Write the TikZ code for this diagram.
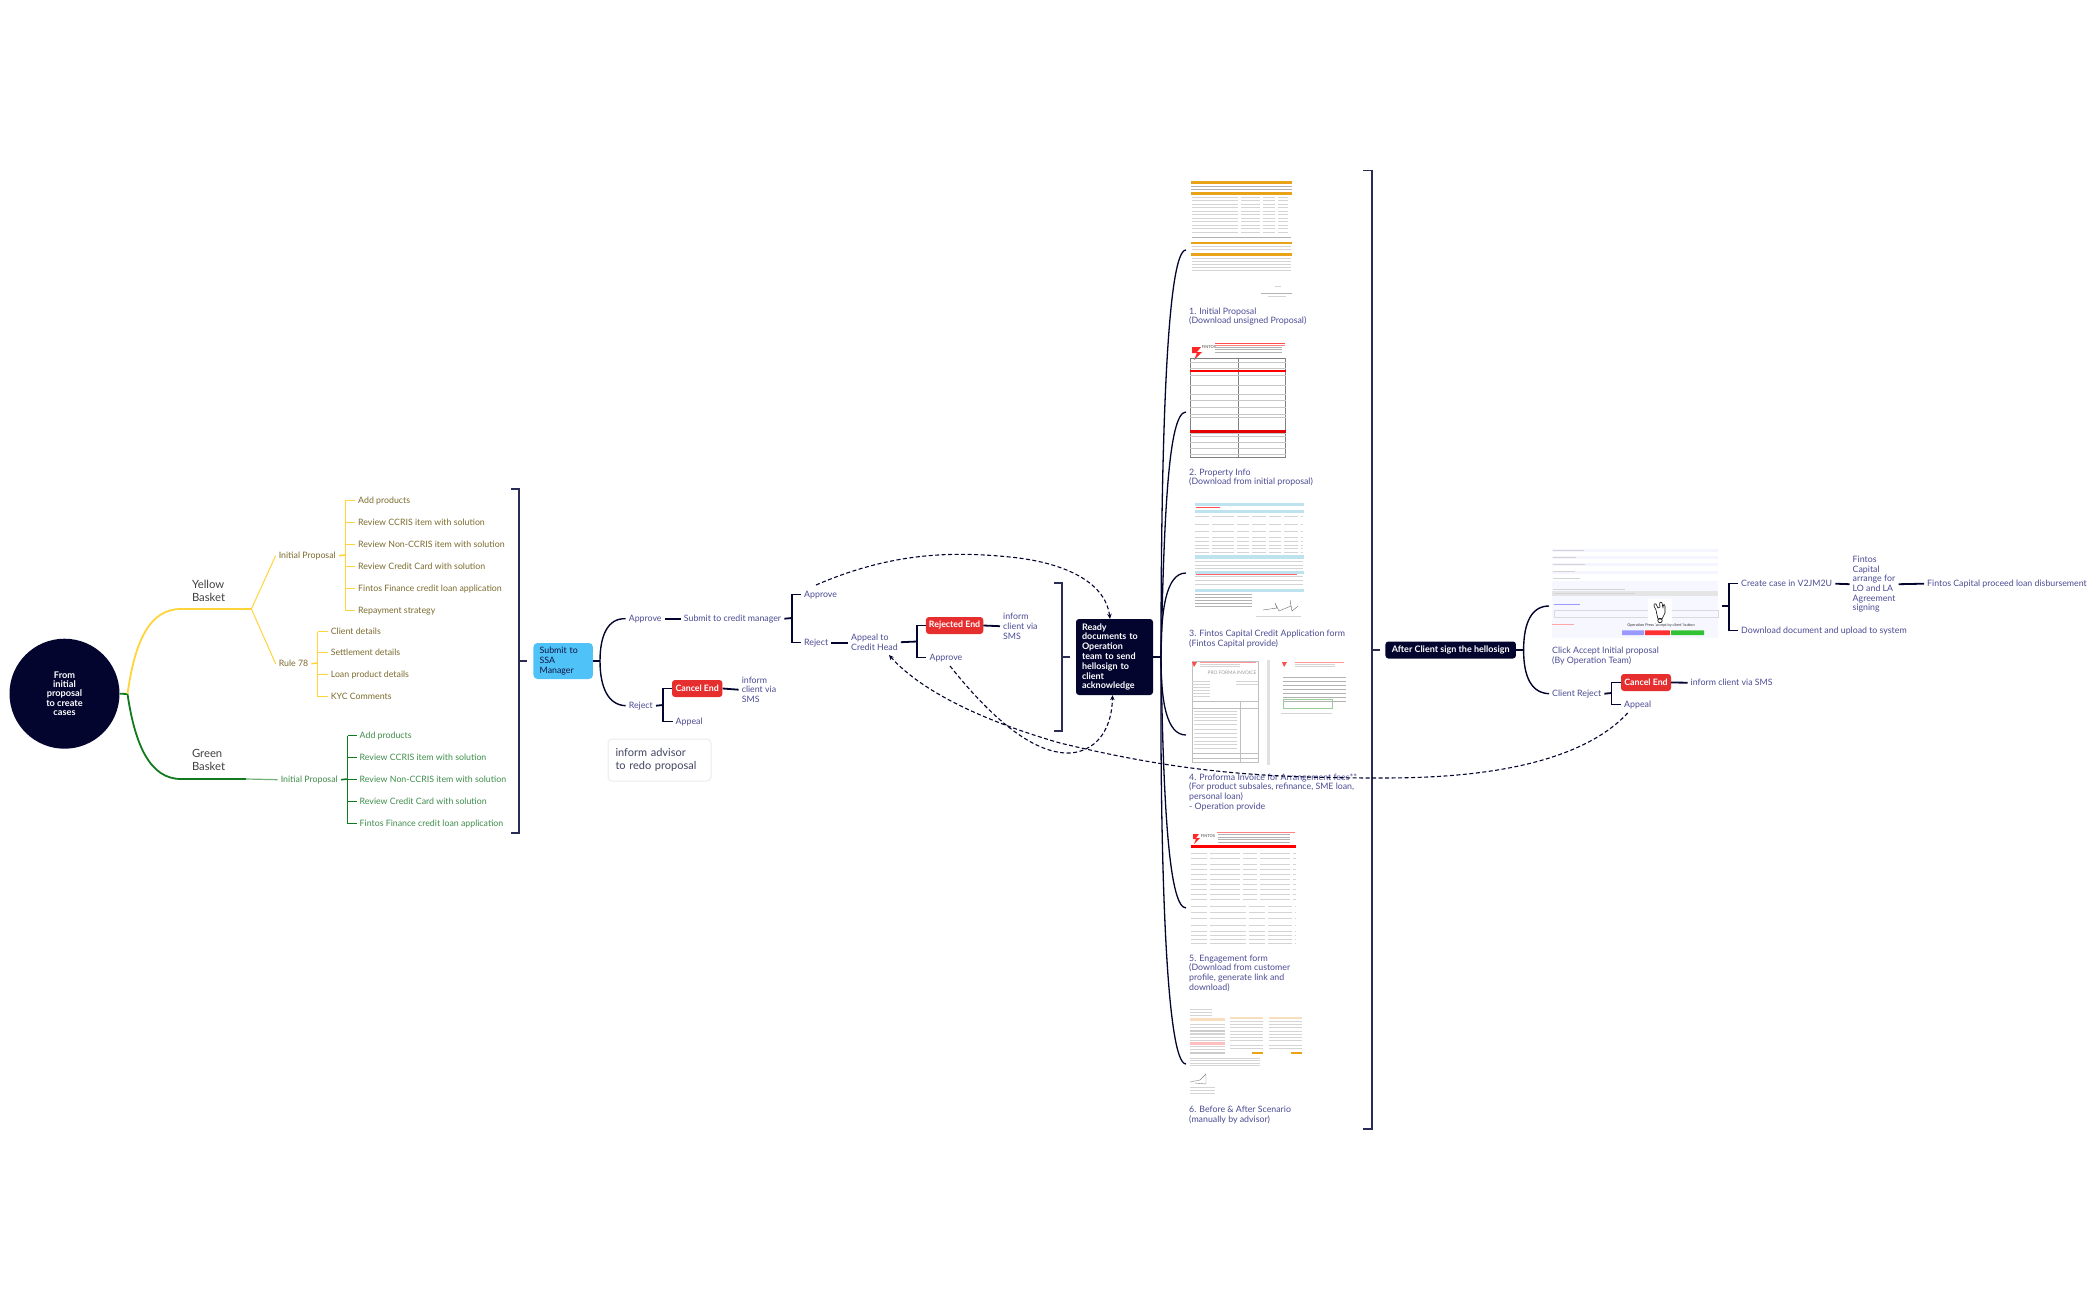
\documentclass[tikz,border=0pt]{standalone}
\usepackage{fontspec}
\setmainfont{Lato}
\usetikzlibrary{arrows.meta}
\definecolor{navy}{HTML}{03052E}
\definecolor{brk}{HTML}{2A2C55}
\definecolor{ink}{HTML}{4B4B94}
\definecolor{ylw}{HTML}{FFD43B}
\definecolor{olive}{HTML}{7B6A2E}
\definecolor{grn}{HTML}{117A1E}
\definecolor{grntxt}{HTML}{3E8C4A}
\definecolor{sky}{HTML}{4FC3F7}
\definecolor{redbox}{HTML}{E62E2E}
\definecolor{amber}{HTML}{E8A317}
\definecolor{paleblue}{HTML}{BFE3EE}
\definecolor{peach}{HTML}{F8DDBF}
\tikzset{
 lbl/.style={anchor=west,inner xsep=3pt,inner ysep=0pt,xshift=-3pt,yshift=-.7pt,align=left,font=\fontsize{8.8}{9.7}\selectfont,text=ink},
 ylab/.style={lbl,text=olive},
 glab/.style={lbl,text=grntxt},
 basket/.style={lbl,text=black!75,font=\fontsize{11.3}{13}\selectfont},
 rbox/.style={rectangle,rounded corners=3pt,fill=redbox,text=white,inner sep=0pt,font=\bfseries\fontsize{8.8}{10}\selectfont},
 nbox/.style={rectangle,rounded corners=3pt,fill=navy,text=white,inner sep=0pt,font=\bfseries\fontsize{9}{9.8}\selectfont},
 stub/.style={navy,line width=1.8pt},
 tree/.style={navy,line width=1.4pt},
 fan/.style={navy,line width=1.3pt},
 bracket/.style={brk,line width=1.3pt},
 ytree/.style={ylw,line width=1pt},
 gtree/.style={grn,line width=.9pt},
 link/.style={navy,line width=1.1pt,dash pattern=on 4pt off 2.5pt,-{Stealth[length=5pt,width=4.5pt]}},
 row/.style={black!17,line width=.7pt},
 rowd/.style={black!30,line width=.7pt},
 rule/.style={black!25,line width=.4pt},
}
\newcommand\rowlines[6][row]{\foreach \yy in {#4,#5,...,#6}{\draw[#1] (#2,\yy) -- (#3,\yy);}}
\begin{document}
\begin{tikzpicture}[x=1pt,y=-1pt]
\useasboundingbox (0,0) rectangle (2099,1300);
% ---------- root ----------
\node[circle,fill=navy,minimum size=110pt,inner sep=0pt,text=white,align=center,font=\bfseries\fontsize{9.2}{9.3}\selectfont] (root) at (64.5,693.7) {From\\initial\\proposal\\to create\\cases};
\coordinate (rootj) at (127.5,694);
\node[basket] (yb) at (191.8,590) {Yellow\\Basket};
\node[basket] (gb) at (191.8,759) {Green\\Basket};
\coordinate (yj) at (251.4,609);
\coordinate (gj) at (246,779);
\draw[grn,line width=1.8pt] (root.east) -- (rootj);
\draw[ylw,line width=1.8pt] (rootj) .. controls (135,640) and (150,609) .. (181,609) -- (yj);
\draw[grn,line width=1.8pt] (rootj) .. controls (135,745) and (150,779) .. (181,779) -- (gj);
% yellow
\node[ylab] (yip) at (278.6,555) {Initial Proposal};
\node[ylab] (r78) at (278.6,663) {Rule 78};
\draw[ytree] (yj) -- (yip.west);
\draw[ytree] (yj) -- (r78.west);
\coordinate (yv) at (345.4,555);
\draw[ylw,line width=1.6pt] (yip.east) -- (yv);
\foreach \n/\yy/\t in {a/500/Add products,b/522/Review CCRIS item with solution,c/544/Review Non-CCRIS item with solution,d/566/Review Credit Card with solution,e/588/Fintos Finance credit loan application,f/610/Repayment strategy}{
 \node[ylab] (y\n) at (358,\yy) {\t};
 \draw[ytree] (y\n.west) -- (yv|-y\n.west);
}
\draw[ytree] (yv|-ya.west) -- (yv|-yf.west);
\coordinate (rv) at (317.5,663);
\draw[ylw,line width=1.4pt] (r78.east) -- (rv);
\foreach \n/\yy/\t in {a/631/Client details,b/652/Settlement details,c/674/Loan product details,d/696/KYC Comments}{
 \node[ylab] (q\n) at (330.6,\yy) {\t};
 \draw[ytree] (q\n.west) -- (rv|-q\n.west);
}
\draw[ytree] (rv|-qa.west) -- (rv|-qd.west);
% green
\node[glab] (gip) at (280.6,779) {Initial Proposal};
\draw[grn!60,line width=1.2pt] (gj) -- (gip.west);
\coordinate (gv) at (347.5,779);
\draw[grn,line width=1.6pt] (gip.east) -- (gv);
\foreach \n/\yy/\t in {a/735/Add products,b/757/Review CCRIS item with solution,c/779/Review Non-CCRIS item with solution,d/801/Review Credit Card with solution,e/823/Fintos Finance credit loan application}{
 \node[glab] (g\n) at (359.5,\yy) {\t};
 \draw[gtree] (g\n.west) -- (gv|-g\n.west);
}
\draw[gtree] (gv|-ga.west) -- (gv|-ge.west);
% bracket 1
\coordinate (b1t) at (511.4,489); \coordinate (b1b) at (511.4,833); \coordinate (b1x) at (519,661);
\coordinate (b1o) at (527,661);
\draw[bracket] (b1t) -| (b1x) |- (b1b);
\draw[bracket] (b1x) -- (b1o);
% submit
\node[rectangle,rounded corners=4pt,fill=sky,text=navy!80!ink,inner sep=0pt,minimum width=59.5pt,minimum height=36pt,text width=47pt,align=left,font=\fontsize{8.8}{9.6}\selectfont] (submit) at (563.2,661) {Submit to\\SSA\\Manager};
\coordinate (sj) at (600,661);
\draw[stub] (submit.east) -- (sj);
\node[lbl] (ap1) at (628.6,618) {Approve};
\node[lbl] (rj1) at (628.6,705) {Reject};
\draw[tree] (sj) .. controls (600,635) and (608,618) .. (ap1.west);
\draw[tree] (sj) .. controls (600,687) and (608,705) .. (rj1.west);
\node[lbl] (scm) at (683.7,618) {Submit to credit manager};
\draw[stub] (ap1.east) -- (scm.west);
\coordinate (sv) at (792,618);
\draw[stub] (scm.east) -- (sv);
\node[lbl] (ap2) at (804,594) {Approve};
\node[lbl] (rj2) at (804,642) {Reject};
\draw[tree] (ap2.west) -- (sv|-ap2.west) -- (sv|-rj2.west) -- (rj2.west);
\node[lbl] (ach) at (851,641.5) {Appeal to\\Credit Head};
\draw[stub] (rj2.east) -- (ach.west|-rj2.east);
\coordinate (av) at (917,641.5);
\draw[stub] (ach.east) -- (av);
\node[rbox,minimum width=57.3pt,minimum height=17pt] (rend) at (954.6,625.5) {Rejected End};
\node[lbl] (ap3) at (929.4,657) {Approve};
\node[lbl] (inf2) at (1003,625.5) {inform\\client via\\SMS};
\draw[tree] (rend.west) -- (av|-rend.west) -- (av|-ap3.west) -- (ap3.west);
\draw[stub] (rend.east) -- (inf2.west);
% reject branch
\coordinate (rv1) at (663,705);
\draw[stub] (rj1.east) -- (rv1);
\node[rbox,minimum width=50.4pt,minimum height=17pt] (cend) at (697.2,688.5) {Cancel End};
\node[lbl] (app1) at (675.5,721) {Appeal};
\node[lbl] (inf1) at (741.6,689) {inform\\client via\\SMS};
\draw[tree] (cend.west) -- (rv1|-cend.west) -- (rv1|-app1.west) -- (app1.west);
\draw[stub] (cend.east) -- (inf1.west);
\node[rectangle,rounded corners=4pt,draw=black!8,line width=1pt,fill=white,text=navy!75,minimum width=103pt,minimum height=42pt,inner sep=0pt,text width=88pt,align=left,font=\fontsize{11}{13}\selectfont] (note) at (659.5,760) {inform advisor\\to redo proposal};
% bracket 2
\coordinate (b2t) at (1054,583); \coordinate (b2b) at (1054,731); \coordinate (b2x) at (1062,657); \coordinate (b2o) at (1070,657);
\draw[bracket] (b2t) -| (b2x) |- (b2b);
\draw[bracket] (b2x) -- (b2o);
% ready
\node[nbox,minimum width=77pt,minimum height=76pt,text width=65pt,align=left] (ready) at (1114.5,657) {Ready\\documents to\\Operation\\team to send\\hellosign to\\client\\acknowledge};
\coordinate (hub) at (1161,657);
\draw[navy,line width=2.6pt] (ready.east) -- (hub);
\coordinate (c1) at (1186,250); \coordinate (c2) at (1186,412); \coordinate (c3) at (1186,573);
\coordinate (c4) at (1186,735); \coordinate (c5) at (1186,908); \coordinate (c6) at (1186,1064);
\draw[fan] (hub) .. controls (1161,460) and (1166,250) .. (c1);
\draw[fan] (hub) .. controls (1164,520) and (1168,412) .. (c2);
\draw[fan] (hub) .. controls (1161,610) and (1166,573) .. (c3);
\draw[fan] (hub) .. controls (1161,700) and (1166,735) .. (c4);
\draw[fan] (hub) .. controls (1163,790) and (1168,908) .. (c5);
\draw[fan] (hub) .. controls (1160,860) and (1166,1064) .. (c6);
% ---------- image 1 ----------
\fill[amber] (1191,181.5) rectangle (1292,184);
\rowlines[rowd]{1191}{1292}{186}{189}{189}
\fill[amber] (1191,192) rectangle (1292,195);
\foreach \yy in {197,200.5,...,232}{
 \draw[row,dash pattern=on 46pt off 3pt on 19pt off 3pt on 12pt off 3pt on 10pt off 3pt] (1192,\yy) -- (1291,\yy);}
\draw[rowd] (1192,237) -- (1291,237);
\fill[amber] (1191,242) rectangle (1292,244.5);
\rowlines[row]{1192}{1291}{246.5}{249.5}{250}
\fill[amber] (1191,253) rectangle (1292,255.5);
\rowlines[row]{1192}{1291}{258}{261}{272}
\draw[row] (1275,286) -- (1281,286);
\draw[rowd] (1261,293) -- (1292,293);
\draw[row] (1268,296) -- (1286,296);
\node[lbl] (l1) at (1189,316) {1. Initial Proposal\\(Download unsigned Proposal)};
% ---------- image 2 ----------
\fill[red!85] (1192,347) -- (1201,347) -- (1197,352) -- (1202,352) -- (1194,360) -- (1197,353) -- (1192,353) -- cycle;
\node[inner sep=0pt,text=black!55,font=\bfseries\fontsize{4}{4}\selectfont] (tx2) at (1209,347) {FINTOS};
\draw[red!70,line width=.8pt] (1215,343) -- (1285,343);
\draw[red!50,line width=.4pt] (1215,345) -- (1285,345);
\rowlines[rowd]{1215}{1282}{347}{349.5}{354}
\draw[black!50,line width=.5pt] (1190,358.5) rectangle (1285.7,457.7);
\draw[black!50,line width=.5pt] (1238,358.5) -- (1238,457.7);
\foreach \yy in {362,368,375,385,394,400,407,414,417,433,436,442,448,454}{\draw[black!22,line width=.5pt] (1190,\yy) -- (1285.7,\yy);}
\fill[red] (1190,369.5) rectangle (1285.7,372);
\fill[red!90!black] (1190,429.5) rectangle (1285.7,433);
\node[lbl] (l2) at (1189,477) {2. Property Info\\(Download from initial proposal)};
% ---------- image 3 ----------
\foreach \ya/\yb in {502.5/505.5,510/513,555/558.5,570.5/573.5,588.5/591.5}{\fill[paleblue] (1194.5,\ya) rectangle (1304,\yb);}
\draw[red!70,line width=.5pt] (1196,507.5) -- (1220,507.5);
\foreach \yy in {516,524,531,537,541,545,548,552}{\draw[row,dash pattern=on 14pt off 3pt on 22pt off 3pt on 12pt off 3pt on 14pt off 3pt on 12pt off 3pt] (1195,\yy) -- (1303,\yy);}
\foreach \yy in {561,565,568,576,580,584}{\draw[row] (1195,\yy) -- (1303,\yy);}
\draw[red!60,line width=.6pt] (1196,574.5) -- (1297,574.5);
\foreach \yy in {594,597,600,603,606}{\draw[rowd] (1195,\yy) -- (1252,\yy);}
\draw[rule,black!60] (1263,610) -- (1277,608) -- (1275,603) -- (1279,611) -- (1291,606) -- (1290,600) -- (1292,611) -- (1298,606);
\draw[row] (1256,616.5) -- (1301,616.5);
\node[lbl] (l3) at (1189,638) {3. Fintos Capital Credit Application form\\(Fintos Capital provide)};
% ---------- image 4 ----------
\fill[black!12] (1267,660) rectangle (1270,765);
\draw[rule] (1192,661) rectangle (1258,762);
\fill[red!70] (1192,662) -- (1197,662) -- (1194,667) -- cycle;
\draw[red!40,line width=.4pt] (1200,662) -- (1256,662);
\rowlines[row]{1200}{1240}{664}{666}{666}
\node[inner sep=0pt,text=black!40,font=\fontsize{4.8}{5}\selectfont] (pf) at (1232,673) {PRO FORMA INVOICE};
\rowlines[row]{1192}{1210}{681}{684}{696}
\rowlines[row]{1236}{1258}{681}{684}{684}
\draw[rule] (1192,701) rectangle (1258,762);
\draw[rule] (1240,701) -- (1240,762);
\draw[rule] (1192,708) -- (1258,708);
\foreach \yy in {711,714,717,720,724,729,733,737,741,744,748}{\draw[row] (1194,\yy) -- (1237,\yy);}
\draw[rule] (1192,753) -- (1258,753);
\draw[rule] (1192,758) -- (1258,758);
\fill[red!70] (1282,662) -- (1287,662) -- (1284,667) -- cycle;
\draw[red!40,line width=.4pt] (1295,662) -- (1344,662);
\rowlines[row]{1295}{1335}{664}{666}{666}
\foreach \yy in {677,681,685,689,693,697,701}{\draw[rowd] (1283,\yy) -- (1346,\yy);}
\draw[green!50!black!40,line width=.5pt] (1283,699) rectangle (1332,708);
\draw[row] (1281,713) -- (1332,713);
\node[lbl] (l4) at (1189,791.5) {4. Proforma Invoice for Arrangement fees**\\(For product subsales, refinance, SME loan,\\personal loan)\\- Operation provide};
% ---------- image 5 ----------
\fill[red!85] (1193,834) -- (1199,834) -- (1196,838) -- (1200,838) -- (1194,844) -- (1196,839) -- (1193,839) -- cycle;
\node[inner sep=0pt,text=black!55,font=\bfseries\fontsize{4}{4}\selectfont] (tx5) at (1208,836) {FINTOS};
\draw[red!50,line width=.8pt] (1217,832) -- (1295,832);
\rowlines[rowd]{1218}{1290}{834.5}{837}{842}
\fill[red] (1191,844.5) rectangle (1296,848);
\foreach \yy in {853,858,864,869,874,879,884,889,894,899}{\draw[row,dash pattern=on 16pt off 3pt on 30pt off 3pt on 14pt off 3pt on 30pt off 3pt] (1191,\yy) -- (1296,\yy);}
\foreach \yy in {906,912,918,925,931,935,939,943}{\draw[row,dash pattern=on 16pt off 3pt on 36pt off 3pt on 16pt off 3pt on 24pt off 3pt] (1191,\yy) -- (1296,\yy);}
\node[lbl] (l5) at (1189,972.5) {5. Engagement form\\(Download from customer\\profile, generate link and\\download)};
% ---------- image 6 ----------
\rowlines[row]{1190}{1212}{1009}{1012}{1015}
\fill[peach] (1190,1018) rectangle (1225,1021);
\rowlines[row]{1190}{1225}{1024}{1027}{1034}
\fill[black!20] (1190,1030) rectangle (1225,1032);
\rowlines[row]{1190}{1225}{1034}{1037}{1050}
\fill[red!25] (1190,1042) rectangle (1225,1045);
\fill[black!20] (1190,1052) rectangle (1225,1054);
\foreach \xa/\xb in {1230/1263,1269/1302}{
 \fill[peach] (\xa,1016.5) rectangle (\xb,1018.5);
 \rowlines[row]{\xa}{\xb}{1021}{1024}{1027}
 \rowlines[row]{\xa}{\xb}{1031}{1034}{1041}
 \rowlines[row]{\xa}{\xb}{1045}{1048}{1048}
 \fill[amber] (\xb-11,1052) rectangle (\xb,1054);
}
\rowlines[row]{1190}{1260}{1058}{1060.5}{1066}
\draw[rule,black!50] (1190,1082) -- (1200,1080) -- (1206,1074) -- (1206,1084) -- (1195,1083);
\rowlines[row]{1190}{1215}{1087}{1090}{1093}
\node[lbl] (l6) at (1189,1114) {6. Before \& After Scenario\\(manually by advisor)};
% bracket 3
\coordinate (b3t) at (1363,170.7); \coordinate (b3b) at (1363,1129); \coordinate (b3x) at (1372,650); \coordinate (b3o) at (1380,650);
\draw[bracket] (b3t) -| (b3x) |- (b3b);
\draw[bracket] (b3x) -- (b3o);
% after client
\node[nbox,minimum width=130.5pt,minimum height=17pt] (after) at (1450.7,650) {After Client sign the hellosign};
\coordinate (aj) at (1523.6,650);
\draw[stub] (after.east) -- (aj);
\coordinate (cimg) at (1549,606);
\node[lbl] (clr) at (1552,693) {Client Reject};
\draw[tree] (aj) .. controls (1523.6,622) and (1532,606) .. (cimg);
\draw[tree] (aj) .. controls (1523.6,678) and (1532,693) .. (clr.west);
% screenshot
\fill[blue!4] (1552,549) rectangle (1718,552);
\fill[blue!4] (1552,556) rectangle (1718,559);
\fill[blue!4] (1552,563) rectangle (1718,566);
\fill[blue!4] (1552,571) rectangle (1718,574);
\fill[blue!3] (1552,581) rectangle (1718,638);
\fill[black!10] (1552,591) rectangle (1718,596);
\draw[row,line width=.5pt] (1553,549.8) -- (1584,549.8);
\draw[row,line width=.5pt] (1553,557) -- (1576,557);
\draw[row,line width=.5pt] (1553,564) -- (1585,564);
\draw[row,line width=.5pt] (1553,571.5) -- (1575,571.5);
\draw[row,line width=.5pt] (1553,578.7) -- (1580,578.7);
\draw[row,line width=.5pt] (1553,589.5) -- (1625,589.5);
\draw[row,line width=.5pt] (1554,593.5) -- (1635,593.5);
\draw[blue!40,line width=.5pt] (1554,604.5) -- (1580,604.5);
\draw[black!15,line width=.4pt] (1554,610) rectangle (1718,617);
\draw[red!35,line width=.6pt] (1552,624.5) -- (1574,624.5);
\fill[white] (1648,599) rectangle (1672,624);
\draw[black,line width=.6pt,fill=white,line join=round] (1654,606) -- (1656,610) -- (1657,615) -- (1658,619) -- (1662,619) -- (1665,613) -- (1665,606) .. controls (1664,603) and (1663,605) .. (1663,608) -- (1662,603) .. controls (1660,601) and (1659,603) .. (1660,607) -- (1658,608) -- (1656,604) .. controls (1654,603) and (1654,604) .. (1654,606) -- cycle;
\draw[black,line width=.6pt] (1660,620.5) circle (2.2pt);
\node[inner sep=0pt,text=black!80,font=\fontsize{3.8}{4}\selectfont] (press) at (1661,625.8) {Operation Press 'accept by client' button};
\fill[blue!40!white,rounded corners=.5pt] (1622,630.3) rectangle (1644,635.2);
\fill[red!75!pink,rounded corners=.5pt] (1645,630.3) rectangle (1670,635.2);
\fill[green!70!black!80,rounded corners=.5pt] (1671,630.3) rectangle (1704,635.2);
\node[lbl] (lc) at (1552,655.5) {Click Accept Initial proposal\\(By Operation Team)};
% right tree
\coordinate (ij) at (1722,606);
\coordinate (iv) at (1729,606);
\draw[stub] (ij) -- (iv);
\node[lbl] (cc) at (1741,583) {Create case in V2JM2U};
\node[lbl] (dd) at (1741,630) {Download document and upload to system};
\draw[tree] (cc.west) -- (iv|-cc.west) -- (iv|-dd.west) -- (dd.west);
\node[lbl] (ar) at (1852.5,583.5) {Fintos\\Capital\\arrange for\\LO and LA\\Agreement\\signing};
\draw[stub] (cc.east) -- (ar.west);
\node[lbl] (pr) at (1927,583) {Fintos Capital proceed loan disbursement};
\draw[stub] (ar.east) -- (pr.west);
\coordinate (rv2) at (1611.6,693);
\draw[stub] (clr.east) -- (rv2);
\node[rbox,minimum width=50pt,minimum height=17pt] (cend2) at (1646,682.5) {Cancel End};
\node[lbl] (app2) at (1624,704) {Appeal};
\node[lbl] (inf3) at (1690.5,682) {inform client via SMS};
\draw[tree] (cend2.west) -- (rv2|-cend2.west) -- (rv2|-app2.west) -- (app2.west);
\draw[stub] (cend2.east) -- (inf3.west);
% ---------- dashed links ----------
\coordinate (s1) at (816,585);
\coordinate (s2) at (950,666);
\coordinate (s3) at (1627.7,713);
\coordinate (t3) at (889,655);
\draw[link] (s1) .. controls (890,553) and (950,551) .. (1010,557) .. controls (1070,563) and (1106,585) .. ([xshift=-4.5pt]ready.north);
\draw[link] (s2) .. controls (985,710) and (1030,755) .. (1071,753) .. controls (1100,750) and (1112,725) .. ([xshift=-2pt]ready.south);
\draw[link] (s3) .. controls (1570,775) and (1440,778) .. (1380,778) .. controls (1260,778) and (1180,772) .. (1060,743) .. controls (980,720) and (920,690) .. (t3);
\end{tikzpicture}
\end{document}
